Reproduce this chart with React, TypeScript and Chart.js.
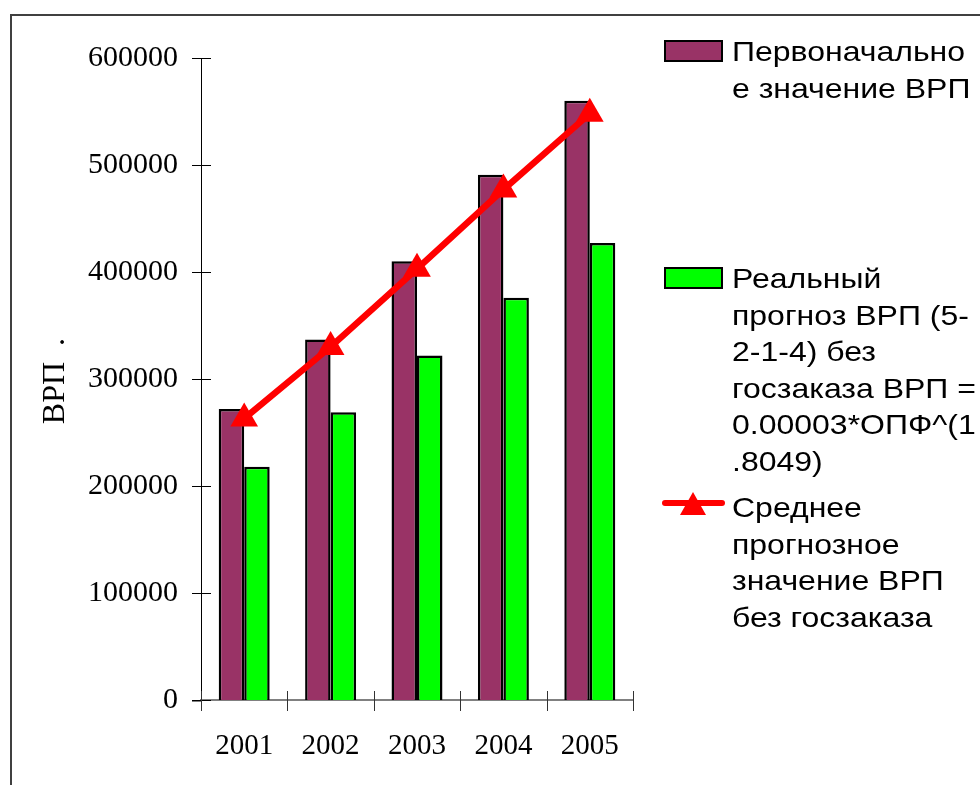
import React, { useEffect, useRef } from "react";
import { Chart, registerables } from "chart.js";
Chart.register(...registerables);

const categories = ["2001", "2002", "2003", "2004", "2005"];
const initialGrp = [272000, 337000, 410000, 491000, 560000];
const realForecast = [218000, 269000, 322000, 376000, 427000];
const avgForecast = [263000, 330000, 403000, 477000, 548000];
const yTicks = [0, 100000, 200000, 300000, 400000, 500000, 600000];
const yTitle = "ВРП  .";
const seriesNames = [
  "Первоначальное значение ВРП",
  "Реальный прогноз ВРП (5-2-1-4) без госзаказа ВРП = 0.00003*ОПФ^(1.8049)",
  "Среднее прогнозное значение ВРП без госзаказа",
];
const legendLines1 = ["Первоначально", "е значение ВРП"];
const legendLines2 = ["Реальный", "прогноз ВРП (5-", "2-1-4) без", "госзаказа ВРП =", "0.00003*ОПФ^(1", ".8049)"];
const legendLines3 = ["Среднее", "прогнозное", "значение ВРП", "без госзаказа"];

const MAROON = "#993366";
const GREEN = "#00FF00";
const RED = "#FF0000";
const SERIF = "'Liberation Serif', 'Times New Roman', serif";
const SANS = "'Liberation Sans', Arial, sans-serif";

const decorPlugin = {
  id: "decor",
  beforeDraw(chart: any) {
    const ctx = chart.ctx;
    ctx.save();
    ctx.fillStyle = "#ffffff";
    ctx.fillRect(0, 0, chart.width, chart.height);
    ctx.strokeStyle = "#404040";
    ctx.lineWidth = 2;
    ctx.strokeRect(11, 15, chart.width + 20, chart.height + 20);
    ctx.restore();
  },
  afterDraw(chart: any) {
    const ctx = chart.ctx;
    const xs = chart.scales.x;
    const ys = chart.scales.y;
    const area = chart.chartArea;
    ctx.save();
    // x axis extension to the left
    ctx.strokeStyle = "#808080";
    ctx.lineWidth = 2;
    ctx.beginPath();
    ctx.moveTo(area.left - 9, area.bottom + 1);
    ctx.lineTo(area.left, area.bottom + 1);
    ctx.stroke();
    // y ticks crossing axis
    ctx.strokeStyle = "#000";
    ctx.lineWidth = 1;
    for (const v of yTicks) {
      const py = Math.round(ys.getPixelForValue(v)) + 0.5;
      ctx.beginPath();
      ctx.moveTo(area.left - 9, py);
      ctx.lineTo(area.left + 10, py);
      ctx.stroke();
    }
    // x ticks at category boundaries
    ctx.strokeStyle = "#333";
    const n = categories.length;
    const step = xs.getPixelForValue(1) - xs.getPixelForValue(0);
    for (let i = 0; i <= n; i++) {
      const px = i < n ? xs.getPixelForValue(i) - step / 2 : xs.getPixelForValue(n - 1) + step / 2;
      const rx = Math.round(px) + 0.5;
      ctx.beginPath();
      ctx.moveTo(rx, area.bottom - 9);
      ctx.lineTo(rx, area.bottom + 11);
      ctx.stroke();
    }
    // y title
    ctx.fillStyle = "#000";
    ctx.font = `32px ${SERIF}`;
    ctx.textAlign = "center";
    ctx.textBaseline = "middle";
    ctx.translate(56, (area.top + area.bottom) / 2 + 2);
    ctx.rotate(-Math.PI / 2);
    ctx.fillText(yTitle, 0, 0);
    ctx.restore();

    // legend
    ctx.save();
    ctx.font = `28px ${SANS}`;
    ctx.fillStyle = "#000";
    ctx.textBaseline = "alphabetic";
    ctx.textAlign = "left";
    const sx = Math.min(1.15, 233 / ctx.measureText(legendLines1[0]).width);
    const drawLines = (lines: string[], y0: number) => {
      lines.forEach((t, i) => {
        ctx.save();
        ctx.translate(732, y0 + i * 36.5);
        ctx.scale(sx, 1);
        ctx.fillText(t, 0, 0);
        ctx.restore();
      });
    };
    // item 1
    ctx.fillStyle = MAROON;
    ctx.fillRect(665, 41, 57, 20);
    ctx.strokeStyle = "#000";
    ctx.lineWidth = 2;
    ctx.strokeRect(665, 41, 57, 20);
    ctx.fillStyle = "#000";
    drawLines(legendLines1, 61);
    // item 2
    ctx.fillStyle = GREEN;
    ctx.fillRect(665, 268, 57, 20);
    ctx.strokeRect(665, 268, 57, 20);
    ctx.fillStyle = "#000";
    drawLines(legendLines2, 288);
    // item 3
    ctx.strokeStyle = RED;
    ctx.lineWidth = 6;
    ctx.lineCap = "round";
    ctx.beginPath();
    ctx.moveTo(665, 503);
    ctx.lineTo(722, 503);
    ctx.stroke();
    ctx.fillStyle = RED;
    ctx.beginPath();
    ctx.moveTo(693, 492);
    ctx.lineTo(706, 515);
    ctx.lineTo(680, 515);
    ctx.closePath();
    ctx.fill();
    ctx.fillStyle = "#000";
    drawLines(legendLines3, 517);
    ctx.restore();
  },
};

export default function App() {
  const ref = useRef<HTMLCanvasElement>(null);
  useEffect(() => {
    const prevMargin = document.body.style.margin;
    document.body.style.margin = "0";
    const chart = new Chart(ref.current!, {
      type: "bar",
      data: {
        labels: categories,
        datasets: [
          {
            type: "line",
            label: seriesNames[2],
            data: avgForecast,
            borderColor: RED,
            backgroundColor: RED,
            borderWidth: 6.5,
            pointStyle: "triangle",
            pointRadius: 16,
            pointBorderWidth: 0,
            pointBackgroundColor: RED,
            order: 0,
          } as any,
          {
            label: seriesNames[0],
            data: initialGrp,
            backgroundColor: MAROON,
            borderColor: "#000",
            borderWidth: 2.5,
            order: 1,
          },
          {
            label: seriesNames[1],
            data: realForecast,
            backgroundColor: GREEN,
            borderColor: "#000",
            borderWidth: 2.5,
            order: 1,
          },
        ],
      },
      options: {
        animation: false,
        responsive: false,
        devicePixelRatio: 1,
        layout: { padding: { left: 0, top: 58, right: 347, bottom: 0 } },
        datasets: { bar: { categoryPercentage: 0.59, barPercentage: 1 } } as any,
        plugins: { legend: { display: false }, tooltip: { enabled: false } },
        scales: {
          x: {
            grid: { display: false, drawTicks: false },
            border: { display: true, color: "#808080", width: 2 },
            ticks: { color: "#000", font: { family: SERIF, size: 29 }, padding: 29, maxRotation: 0 },
            afterFit: (s: any) => { s.height = 85; },
          },
          y: {
            min: 0,
            max: 600000,
            grid: { display: false, drawTicks: false },
            border: { display: true, color: "#000", width: 1 },
            afterBuildTicks: (s: any) => { s.ticks = yTicks.map((v) => ({ value: v })); },
            ticks: {
              color: "#000",
              font: { family: SERIF, size: 30 },
              padding: 23,
              callback: (v: any) => String(v),
            },
            afterFit: (s: any) => { s.width = 201; },
          },
        },
      },
      plugins: [decorPlugin],
    });
    return () => {
      chart.destroy();
      document.body.style.margin = prevMargin;
    };
  }, []);
  return (
    <div style={{ position: "fixed", left: 0, top: 0, width: 980, height: 785 }}>
      <canvas ref={ref} width={980} height={785} />
    </div>
  );
}
